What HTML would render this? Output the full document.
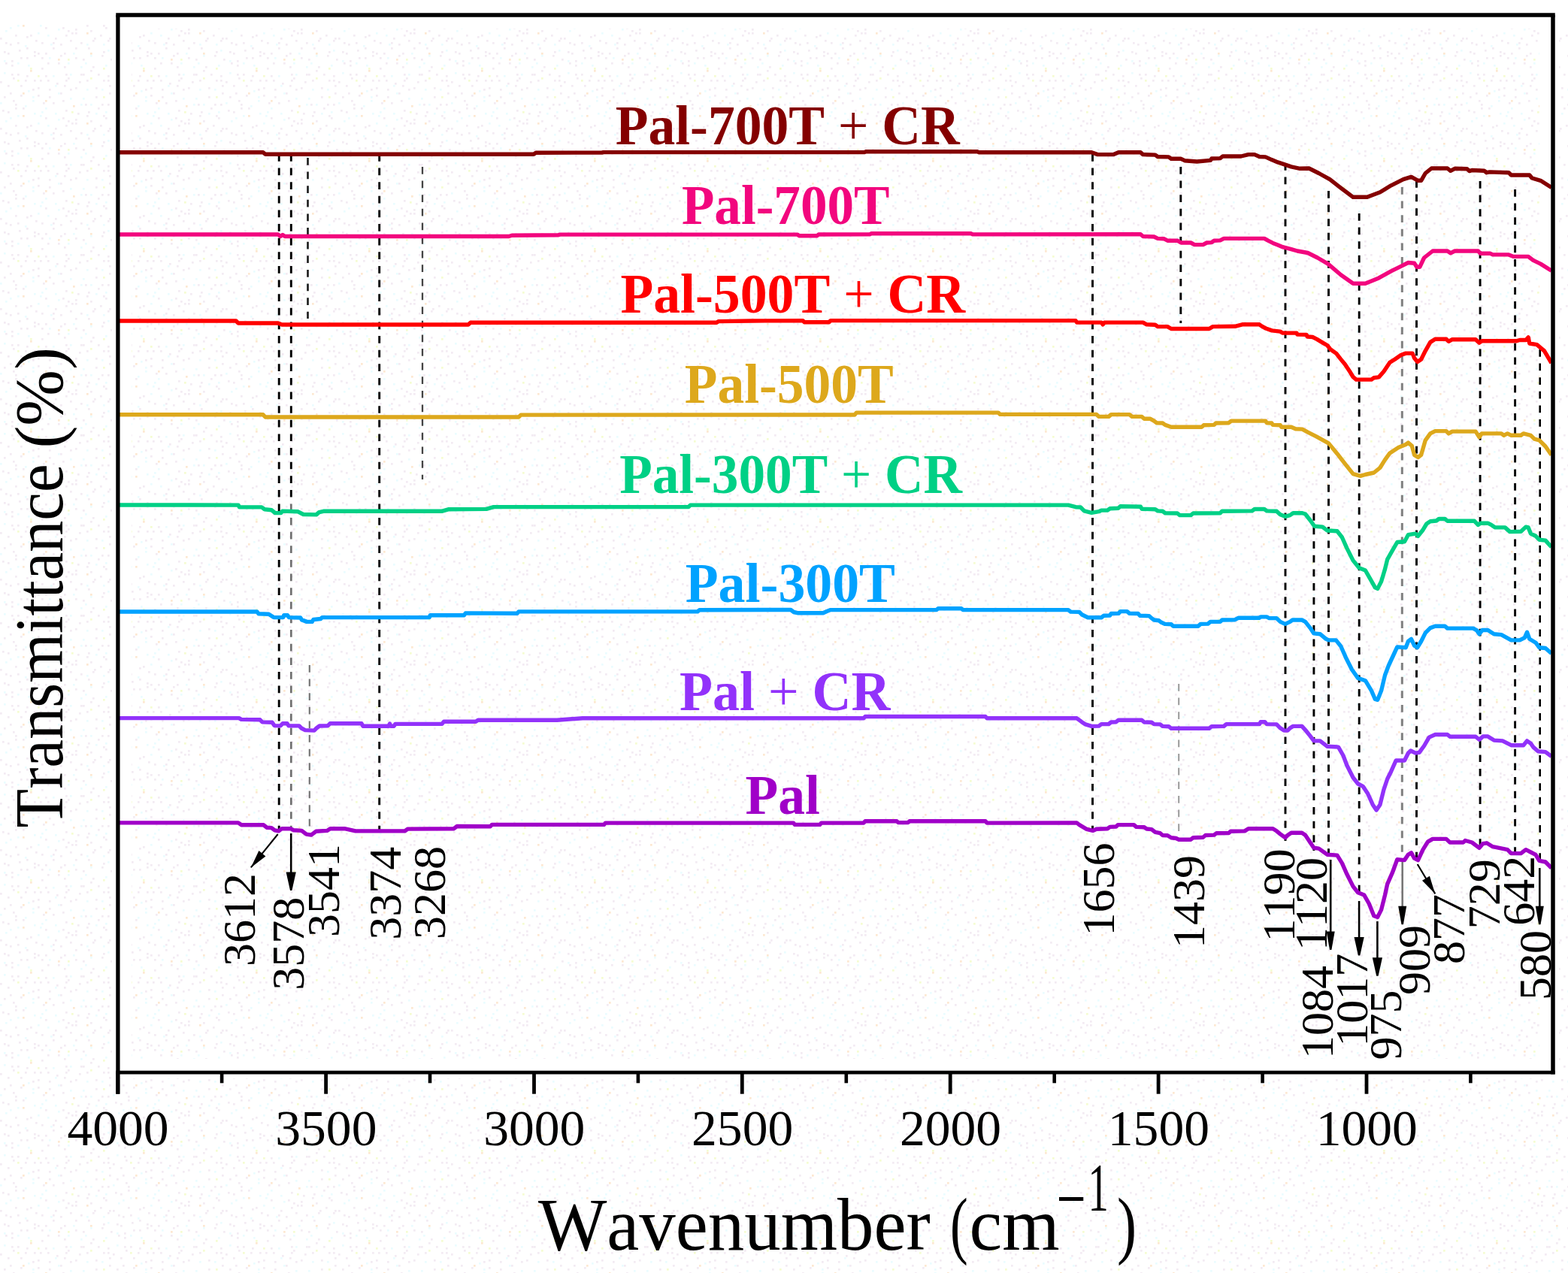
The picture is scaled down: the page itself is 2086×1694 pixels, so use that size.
<!DOCTYPE html>
<html lang="en"><head><meta charset="utf-8">
<title>FTIR spectra of Pal samples</title>
<style>
html,body{margin:0;padding:0;background:#fff;}
body{width:2086px;height:1694px;overflow:hidden;}
svg{display:block;}
text{font-family:"Liberation Serif", "DejaVu Serif", serif;font-kerning:none;font-variant-ligatures:none;}
.lab{font-weight:bold;}
</style></head><body>
<svg width="2086" height="1694" viewBox="0 0 2086 1694" role="img" aria-label="FTIR transmittance spectra">
<rect x="0" y="0" width="2086" height="1694" fill="#ffffff"/>
<defs><pattern id="tex" x="0" y="33" width="150" height="120" patternUnits="userSpaceOnUse">
<rect x="7" y="7" width="2.7" height="2.7" fill="#ebfcff"/>
<rect x="13" y="3" width="2.7" height="2.7" fill="#ebfcff"/>
<rect x="23" y="0" width="2.7" height="2.7" fill="#ebfcff"/>
<rect x="30" y="0" width="2.7" height="2.7" fill="#fde8d2"/>
<rect x="53" y="0" width="2.7" height="2.7" fill="#ebfcff"/>
<rect x="60" y="3" width="2.7" height="2.7" fill="#f3ebf3"/>
<rect x="77" y="5" width="2.7" height="2.7" fill="#ebfcff"/>
<rect x="83" y="3" width="2.7" height="2.7" fill="#f3ebf3"/>
<rect x="90" y="7" width="2.7" height="2.7" fill="#f3ebf3"/>
<rect x="100" y="5" width="2.7" height="2.7" fill="#f3ebf3"/>
<rect x="115" y="0" width="2.7" height="2.7" fill="#f3ebf3"/>
<rect x="120" y="7" width="2.7" height="2.7" fill="#f3ebf3"/>
<rect x="137" y="0" width="2.7" height="2.7" fill="#f3ebf3"/>
<rect x="140" y="3" width="2.7" height="2.7" fill="#f3ebf3"/>
<rect x="0" y="17" width="2.7" height="2.7" fill="#f3ebf3"/>
<rect x="20" y="13" width="2.7" height="2.7" fill="#f3ebf3"/>
<rect x="35" y="15" width="2.7" height="2.7" fill="#f3ebf3"/>
<rect x="40" y="13" width="2.7" height="2.7" fill="#f3ebf3"/>
<rect x="50" y="10" width="2.7" height="2.7" fill="#ebfcff"/>
<rect x="63" y="13" width="2.7" height="2.7" fill="#ebfcff"/>
<rect x="73" y="17" width="2.7" height="2.7" fill="#f3ebf3"/>
<rect x="87" y="13" width="2.7" height="2.7" fill="#f3ebf3"/>
<rect x="95" y="10" width="2.7" height="2.7" fill="#f3ebf3"/>
<rect x="100" y="10" width="2.7" height="2.7" fill="#f3ebf3"/>
<rect x="115" y="10" width="2.7" height="2.7" fill="#fde8d2"/>
<rect x="125" y="17" width="2.7" height="2.7" fill="#f3ebf3"/>
<rect x="133" y="13" width="2.7" height="2.7" fill="#f3ebf3"/>
<rect x="145" y="17" width="2.7" height="2.7" fill="#f3ebf3"/>
<rect x="7" y="23" width="2.7" height="2.7" fill="#f3ebf3"/>
<rect x="13" y="25" width="2.7" height="2.7" fill="#f3ebf3"/>
<rect x="23" y="23" width="2.7" height="2.7" fill="#f3ebf3"/>
<rect x="33" y="27" width="2.7" height="2.7" fill="#ebfcff"/>
<rect x="47" y="20" width="2.7" height="2.7" fill="#f3ebf3"/>
<rect x="55" y="23" width="2.7" height="2.7" fill="#f3ebf3"/>
<rect x="67" y="25" width="2.7" height="2.7" fill="#ebfcff"/>
<rect x="70" y="23" width="2.7" height="2.7" fill="#f3ebf3"/>
<rect x="80" y="25" width="2.7" height="2.7" fill="#f3ebf3"/>
<rect x="93" y="20" width="2.7" height="2.7" fill="#f3ebf3"/>
<rect x="107" y="23" width="2.7" height="2.7" fill="#f3ebf3"/>
<rect x="115" y="25" width="2.7" height="2.7" fill="#ebfcff"/>
<rect x="123" y="20" width="2.7" height="2.7" fill="#f3ebf3"/>
<rect x="137" y="25" width="2.7" height="2.7" fill="#ebfcff"/>
<rect x="143" y="20" width="2.7" height="2.7" fill="#f3ebf3"/>
<rect x="5" y="35" width="2.7" height="2.7" fill="#f3ebf3"/>
<rect x="10" y="37" width="2.7" height="2.7" fill="#f3ebf3"/>
<rect x="25" y="33" width="2.7" height="2.7" fill="#f3ebf3"/>
<rect x="35" y="30" width="2.7" height="2.7" fill="#f3ebf3"/>
<rect x="45" y="35" width="2.7" height="2.7" fill="#f3ebf3"/>
<rect x="50" y="37" width="2.7" height="2.7" fill="#f3ebf3"/>
<rect x="60" y="37" width="2.7" height="2.7" fill="#f3ebf3"/>
<rect x="70" y="30" width="2.7" height="2.7" fill="#f3ebf3"/>
<rect x="85" y="37" width="2.7" height="2.7" fill="#f3ebf3"/>
<rect x="97" y="37" width="2.7" height="2.7" fill="#ebfcff"/>
<rect x="100" y="30" width="2.7" height="2.7" fill="#f3ebf3"/>
<rect x="117" y="30" width="2.7" height="2.7" fill="#f3ebf3"/>
<rect x="120" y="37" width="2.7" height="2.7" fill="#fde8d2"/>
<rect x="137" y="35" width="2.7" height="2.7" fill="#f3ebf3"/>
<rect x="143" y="33" width="2.7" height="2.7" fill="#ebfcff"/>
<rect x="5" y="47" width="2.7" height="2.7" fill="#ebfcff"/>
<rect x="15" y="47" width="2.7" height="2.7" fill="#f3ebf3"/>
<rect x="27" y="43" width="2.7" height="2.7" fill="#f3ebf3"/>
<rect x="35" y="43" width="2.7" height="2.7" fill="#f3ebf3"/>
<rect x="45" y="40" width="2.7" height="2.7" fill="#f3ebf3"/>
<rect x="55" y="43" width="2.7" height="2.7" fill="#f3ebf3"/>
<rect x="65" y="43" width="2.7" height="2.7" fill="#ebfcff"/>
<rect x="77" y="45" width="2.7" height="2.7" fill="#fde8d2"/>
<rect x="80" y="40" width="2.7" height="2.7" fill="#f3ebf3"/>
<rect x="90" y="45" width="2.7" height="2.7" fill="#f5fcd2"/>
<rect x="100" y="43" width="2.7" height="2.7" fill="#f3ebf3"/>
<rect x="110" y="45" width="2.7" height="2.7" fill="#f3ebf3"/>
<rect x="120" y="40" width="2.7" height="2.7" fill="#ebfcff"/>
<rect x="135" y="40" width="2.7" height="2.7" fill="#f3ebf3"/>
<rect x="147" y="45" width="2.7" height="2.7" fill="#f3ebf3"/>
<rect x="7" y="50" width="2.7" height="2.7" fill="#f3ebf3"/>
<rect x="15" y="53" width="2.7" height="2.7" fill="#f3ebf3"/>
<rect x="23" y="50" width="2.7" height="2.7" fill="#ebfcff"/>
<rect x="37" y="53" width="2.7" height="2.7" fill="#ebfcff"/>
<rect x="40" y="57" width="2.7" height="2.7" fill="#f5fcd2"/>
<rect x="55" y="57" width="2.7" height="2.7" fill="#f3ebf3"/>
<rect x="63" y="50" width="2.7" height="2.7" fill="#f3ebf3"/>
<rect x="77" y="50" width="2.7" height="2.7" fill="#f3ebf3"/>
<rect x="85" y="55" width="2.7" height="2.7" fill="#f3ebf3"/>
<rect x="90" y="50" width="2.7" height="2.7" fill="#ebfcff"/>
<rect x="107" y="55" width="2.7" height="2.7" fill="#ebfcff"/>
<rect x="113" y="50" width="2.7" height="2.7" fill="#ebfcff"/>
<rect x="123" y="55" width="2.7" height="2.7" fill="#f3ebf3"/>
<rect x="137" y="57" width="2.7" height="2.7" fill="#f5fcd2"/>
<rect x="140" y="53" width="2.7" height="2.7" fill="#ebfcff"/>
<rect x="5" y="63" width="2.7" height="2.7" fill="#ebfcff"/>
<rect x="15" y="65" width="2.7" height="2.7" fill="#f3ebf3"/>
<rect x="23" y="65" width="2.7" height="2.7" fill="#f3ebf3"/>
<rect x="35" y="67" width="2.7" height="2.7" fill="#f3ebf3"/>
<rect x="40" y="60" width="2.7" height="2.7" fill="#fde8d2"/>
<rect x="50" y="67" width="2.7" height="2.7" fill="#f5fcd2"/>
<rect x="60" y="67" width="2.7" height="2.7" fill="#f3ebf3"/>
<rect x="70" y="67" width="2.7" height="2.7" fill="#ebfcff"/>
<rect x="87" y="65" width="2.7" height="2.7" fill="#f3ebf3"/>
<rect x="93" y="65" width="2.7" height="2.7" fill="#ebfcff"/>
<rect x="107" y="65" width="2.7" height="2.7" fill="#f3ebf3"/>
<rect x="110" y="65" width="2.7" height="2.7" fill="#f3ebf3"/>
<rect x="120" y="60" width="2.7" height="2.7" fill="#f3ebf3"/>
<rect x="130" y="65" width="2.7" height="2.7" fill="#f3ebf3"/>
<rect x="143" y="67" width="2.7" height="2.7" fill="#f3ebf3"/>
<rect x="0" y="75" width="2.7" height="2.7" fill="#f3ebf3"/>
<rect x="17" y="70" width="2.7" height="2.7" fill="#f3ebf3"/>
<rect x="23" y="73" width="2.7" height="2.7" fill="#f5fcd2"/>
<rect x="33" y="73" width="2.7" height="2.7" fill="#f3ebf3"/>
<rect x="45" y="73" width="2.7" height="2.7" fill="#f3ebf3"/>
<rect x="53" y="73" width="2.7" height="2.7" fill="#f3ebf3"/>
<rect x="63" y="73" width="2.7" height="2.7" fill="#f3ebf3"/>
<rect x="75" y="77" width="2.7" height="2.7" fill="#f3ebf3"/>
<rect x="87" y="73" width="2.7" height="2.7" fill="#f3ebf3"/>
<rect x="90" y="70" width="2.7" height="2.7" fill="#f3ebf3"/>
<rect x="105" y="75" width="2.7" height="2.7" fill="#f3ebf3"/>
<rect x="115" y="73" width="2.7" height="2.7" fill="#f3ebf3"/>
<rect x="120" y="70" width="2.7" height="2.7" fill="#f5fcd2"/>
<rect x="137" y="73" width="2.7" height="2.7" fill="#f3ebf3"/>
<rect x="143" y="73" width="2.7" height="2.7" fill="#f3ebf3"/>
<rect x="10" y="80" width="2.7" height="2.7" fill="#f3ebf3"/>
<rect x="27" y="80" width="2.7" height="2.7" fill="#f3ebf3"/>
<rect x="37" y="87" width="2.7" height="2.7" fill="#ebfcff"/>
<rect x="43" y="85" width="2.7" height="2.7" fill="#f3ebf3"/>
<rect x="50" y="83" width="2.7" height="2.7" fill="#f3ebf3"/>
<rect x="65" y="85" width="2.7" height="2.7" fill="#f3ebf3"/>
<rect x="73" y="80" width="2.7" height="2.7" fill="#ebfcff"/>
<rect x="85" y="80" width="2.7" height="2.7" fill="#f3ebf3"/>
<rect x="93" y="85" width="2.7" height="2.7" fill="#f3ebf3"/>
<rect x="100" y="83" width="2.7" height="2.7" fill="#f3ebf3"/>
<rect x="115" y="85" width="2.7" height="2.7" fill="#ebfcff"/>
<rect x="127" y="83" width="2.7" height="2.7" fill="#f3ebf3"/>
<rect x="135" y="85" width="2.7" height="2.7" fill="#ebfcff"/>
<rect x="145" y="80" width="2.7" height="2.7" fill="#f3ebf3"/>
<rect x="5" y="95" width="2.7" height="2.7" fill="#f3ebf3"/>
<rect x="13" y="90" width="2.7" height="2.7" fill="#f3ebf3"/>
<rect x="27" y="93" width="2.7" height="2.7" fill="#f3ebf3"/>
<rect x="30" y="90" width="2.7" height="2.7" fill="#fde8d2"/>
<rect x="43" y="95" width="2.7" height="2.7" fill="#ebfcff"/>
<rect x="50" y="93" width="2.7" height="2.7" fill="#f3ebf3"/>
<rect x="65" y="95" width="2.7" height="2.7" fill="#f3ebf3"/>
<rect x="77" y="90" width="2.7" height="2.7" fill="#ebfcff"/>
<rect x="80" y="90" width="2.7" height="2.7" fill="#f3ebf3"/>
<rect x="93" y="97" width="2.7" height="2.7" fill="#ebfcff"/>
<rect x="110" y="97" width="2.7" height="2.7" fill="#ebfcff"/>
<rect x="127" y="95" width="2.7" height="2.7" fill="#f3ebf3"/>
<rect x="137" y="95" width="2.7" height="2.7" fill="#f5fcd2"/>
<rect x="145" y="90" width="2.7" height="2.7" fill="#f3ebf3"/>
<rect x="0" y="103" width="2.7" height="2.7" fill="#ebfcff"/>
<rect x="17" y="100" width="2.7" height="2.7" fill="#f3ebf3"/>
<rect x="20" y="105" width="2.7" height="2.7" fill="#f3ebf3"/>
<rect x="33" y="107" width="2.7" height="2.7" fill="#ebfcff"/>
<rect x="43" y="100" width="2.7" height="2.7" fill="#ebfcff"/>
<rect x="57" y="103" width="2.7" height="2.7" fill="#f3ebf3"/>
<rect x="60" y="100" width="2.7" height="2.7" fill="#fde8d2"/>
<rect x="70" y="103" width="2.7" height="2.7" fill="#f3ebf3"/>
<rect x="83" y="100" width="2.7" height="2.7" fill="#f3ebf3"/>
<rect x="97" y="107" width="2.7" height="2.7" fill="#fde8d2"/>
<rect x="107" y="105" width="2.7" height="2.7" fill="#ebfcff"/>
<rect x="113" y="105" width="2.7" height="2.7" fill="#f3ebf3"/>
<rect x="120" y="105" width="2.7" height="2.7" fill="#ebfcff"/>
<rect x="135" y="105" width="2.7" height="2.7" fill="#f3ebf3"/>
<rect x="143" y="105" width="2.7" height="2.7" fill="#f3ebf3"/>
<rect x="3" y="113" width="2.7" height="2.7" fill="#f3ebf3"/>
<rect x="10" y="115" width="2.7" height="2.7" fill="#f3ebf3"/>
<rect x="20" y="110" width="2.7" height="2.7" fill="#f3ebf3"/>
<rect x="30" y="110" width="2.7" height="2.7" fill="#f3ebf3"/>
<rect x="45" y="117" width="2.7" height="2.7" fill="#ebfcff"/>
<rect x="55" y="115" width="2.7" height="2.7" fill="#ebfcff"/>
<rect x="60" y="110" width="2.7" height="2.7" fill="#ebfcff"/>
<rect x="73" y="117" width="2.7" height="2.7" fill="#ebfcff"/>
<rect x="87" y="113" width="2.7" height="2.7" fill="#f3ebf3"/>
<rect x="95" y="115" width="2.7" height="2.7" fill="#f5fcd2"/>
<rect x="103" y="117" width="2.7" height="2.7" fill="#f3ebf3"/>
<rect x="117" y="115" width="2.7" height="2.7" fill="#f3ebf3"/>
<rect x="127" y="117" width="2.7" height="2.7" fill="#ebfcff"/>
<rect x="130" y="110" width="2.7" height="2.7" fill="#f3ebf3"/>
<rect x="140" y="115" width="2.7" height="2.7" fill="#ebfcff"/>
</pattern></defs>
<rect x="0" y="33" width="2086" height="1661" fill="url(#tex)"/>
<rect x="161.9" y="25" width="1899.1" height="1397" fill="none" stroke="#fff" stroke-width="26"/>
<g fill="none" stroke-dasharray="9.7 8.92">
<line x1="371.2" y1="205.0" x2="371.2" y2="1107.0" stroke="#000" stroke-width="2.9"/>
<line x1="387.3" y1="205.0" x2="387.3" y2="666.0" stroke="#000" stroke-width="2.9"/>
<line x1="387.3" y1="670.5" x2="387.3" y2="1105.0" stroke="#707070" stroke-width="2.7"/>
<line x1="409.5" y1="210.0" x2="409.5" y2="424.0" stroke="#1a1a1a" stroke-width="2.6"/>
<line x1="411.8" y1="885.0" x2="411.8" y2="1111.0" stroke="#777" stroke-width="2.2"/>
<line x1="504.7" y1="205.0" x2="504.7" y2="1107.0" stroke="#000" stroke-width="2.9"/>
<line x1="562.0" y1="222.0" x2="562.0" y2="638.0" stroke="#444" stroke-width="2.3"/>
<line x1="1453.5" y1="205.0" x2="1453.5" y2="1106.0" stroke="#000" stroke-width="2.9"/>
<line x1="1570.8" y1="222.0" x2="1570.8" y2="430.0" stroke="#000" stroke-width="2.9"/>
<line x1="1568.2" y1="910.0" x2="1568.2" y2="1120.0" stroke="#999" stroke-width="2.0"/>
<line x1="1710.0" y1="217.0" x2="1710.0" y2="1119.0" stroke="#000" stroke-width="2.9"/>
<line x1="1747.9" y1="683.0" x2="1747.9" y2="1132.0" stroke="#000" stroke-width="2.9"/>
<line x1="1767.5" y1="254.0" x2="1767.5" y2="1138.0" stroke="#000" stroke-width="2.9"/>
<line x1="1808.2" y1="284.0" x2="1808.2" y2="1188.0" stroke="#000" stroke-width="2.9"/>
<line x1="1865.3" y1="249.0" x2="1865.3" y2="1145.0" stroke="#808080" stroke-width="3.0"/>
<line x1="1884.5" y1="240.0" x2="1884.5" y2="1144.0" stroke="#000" stroke-width="2.9"/>
<line x1="1969.1" y1="241.0" x2="1969.1" y2="1128.0" stroke="#000" stroke-width="2.9"/>
<line x1="2015.6" y1="252.0" x2="2015.6" y2="1136.0" stroke="#000" stroke-width="2.9"/>
<line x1="2048.7" y1="465.0" x2="2048.7" y2="1145.0" stroke="#000" stroke-width="2.6"/>
</g>
<g fill="none" stroke-width="5.4" stroke-linejoin="round" stroke-linecap="butt">
<polyline stroke="#A000C8" points="157.0,1094.9 317.0,1094.9 321.2,1097.8 350.7,1097.8 354.9,1101.2 361.2,1101.6 365.5,1104.8 370.7,1105.9 375.0,1102.7 386.6,1102.7 390.8,1104.8 401.3,1105.4 407.6,1110.1 414.0,1111.1 420.3,1106.3 435.1,1105.4 439.3,1102.7 458.3,1102.7 473.0,1105.9 538.4,1105.9 542.6,1103.1 603.8,1102.7 608.0,1099.5 652.3,1099.8 654.5,1097.4 803.5,1097.4 805.5,1095.1 1055.5,1095.1 1057.5,1097.4 1090.7,1097.4 1092.7,1095.1 1149.0,1095.1 1151.0,1092.7 1193.0,1092.7 1195.0,1094.6 1208.0,1094.6 1210.0,1092.7 1311.0,1092.7 1313.0,1095.1 1432.6,1095.0 1435.9,1097.6 1445.6,1103.3 1453.8,1105.4 1458.7,1103.3 1473.3,1102.8 1476.6,1100.4 1484.8,1100.0 1487.2,1097.6 1508.4,1097.6 1511.7,1100.4 1522.2,1100.7 1525.5,1103.0 1532.0,1103.6 1536.9,1107.4 1543.4,1108.7 1546.7,1111.5 1553.2,1111.8 1558.1,1114.7 1564.6,1115.5 1567.9,1117.2 1584.2,1117.2 1587.4,1114.7 1600.5,1114.2 1603.7,1111.5 1615.2,1111.1 1618.4,1108.7 1634.7,1108.5 1637.2,1106.2 1655.9,1105.9 1660.8,1102.8 1693.4,1102.8 1698.3,1105.8 1703.2,1109.8 1709.7,1114.7 1713.0,1111.5 1717.8,1108.2 1732.0,1108.2 1736.5,1111.2 1743.0,1121.0 1747.9,1128.3 1754.4,1129.1 1765.9,1137.3 1778.9,1138.1 1785.4,1148.7 1791.9,1163.3 1800.1,1179.6 1806.6,1187.8 1814.8,1191.1 1821.3,1202.5 1827.8,1218.8 1832.7,1220.4 1837.6,1210.6 1842.5,1191.1 1845.7,1176.4 1852.2,1161.7 1858.8,1143.8 1868.5,1144.6 1873.4,1137.3 1877.5,1134.8 1881.6,1142.2 1886.5,1144.6 1893.0,1130.7 1899.5,1120.2 1906.0,1116.4 1924.0,1116.4 1928.9,1121.0 1946.8,1121.0 1949.2,1118.5 1958.2,1121.0 1968.0,1128.3 1972.9,1122.6 1977.8,1121.8 1985.9,1126.7 2005.5,1130.7 2010.4,1135.6 2023.4,1135.6 2029.9,1130.7 2036.4,1134.0 2043.0,1137.3 2047.8,1145.4 2056.0,1147.0 2064.0,1155.0"/>
<polyline stroke="#9232FA" points="157.0,955.6 318.0,955.6 321.0,957.4 346.0,957.8 349.0,960.9 362.0,961.2 365.0,965.6 373.0,965.9 376.0,962.8 382.0,962.8 384.0,965.9 398.0,965.9 401.0,969.0 406.0,971.6 418.0,972.1 421.0,969.0 425.0,966.0 436.0,965.9 439.0,962.8 481.0,962.8 483.0,966.3 517.0,966.3 518.5,963.0 520.0,966.3 524.0,966.3 526.0,963.4 588.0,963.4 590.5,960.3 633.0,960.3 636.0,958.3 741.0,958.3 775.0,955.7 1149.0,955.7 1151.0,953.5 1311.0,953.5 1313.0,955.7 1432.6,955.8 1439.1,960.7 1444.0,963.9 1452.2,966.4 1461.9,966.1 1465.2,963.6 1475.0,963.5 1478.2,961.0 1484.8,960.7 1488.0,958.2 1519.0,958.2 1522.2,961.0 1532.0,961.2 1535.3,963.6 1543.4,963.9 1546.7,966.4 1554.8,966.7 1558.1,969.3 1608.6,969.3 1611.9,966.7 1628.2,966.4 1631.5,963.6 1675.5,963.6 1677.1,960.7 1682.8,960.7 1685.2,963.6 1698.3,963.9 1703.2,968.8 1708.1,972.1 1713.0,972.1 1716.2,968.8 1720.3,966.4 1732.0,966.4 1736.5,971.3 1743.0,979.4 1747.9,985.9 1756.1,985.9 1765.9,993.3 1780.5,994.1 1787.0,1005.5 1791.9,1018.5 1800.1,1034.8 1806.6,1043.0 1813.1,1046.3 1819.6,1056.0 1826.2,1070.7 1831.1,1078.0 1836.0,1070.7 1840.8,1051.1 1845.7,1036.5 1850.6,1026.7 1857.1,1012.0 1868.5,1012.0 1873.4,1002.2 1876.7,999.0 1883.2,1002.2 1888.1,1001.4 1894.6,992.5 1901.2,981.1 1909.3,977.5 1925.6,977.5 1928.9,980.2 1963.1,980.2 1968.0,984.3 1972.9,979.9 1979.4,979.9 1987.5,985.1 1998.9,985.9 2010.4,991.7 2026.7,991.7 2031.5,985.9 2036.4,989.2 2039.7,994.1 2046.2,999.8 2056.0,1000.6 2064.0,1006.5"/>
<polyline stroke="#00A2FF" points="157.0,814.0 342.0,814.0 344.1,816.8 357.5,817.2 364.2,821.6 376.7,821.6 377.7,818.7 382.5,818.7 384.4,821.6 399.7,822.0 401.6,824.9 408.3,827.4 415.1,827.4 417.0,824.5 426.6,823.5 428.5,821.6 571.3,821.6 572.3,818.7 617.4,818.7 619.3,815.9 688.0,816.3 690.0,813.9 928.0,813.9 930.5,811.7 1052.0,811.5 1056.0,814.5 1062.0,815.8 1095.0,815.8 1100.0,813.5 1105.0,811.6 1246.0,811.6 1248.0,809.8 1279.0,809.8 1281.0,811.6 1421.2,811.6 1424.4,814.1 1435.9,814.4 1439.1,817.7 1447.3,821.7 1465.2,821.7 1468.5,819.3 1476.6,819.0 1478.2,816.5 1488.0,816.4 1490.5,813.6 1499.4,813.6 1502.7,816.4 1514.1,816.5 1516.5,819.3 1528.8,819.6 1532.0,822.6 1535.3,825.0 1541.8,825.8 1545.1,828.3 1550.0,830.4 1558.1,830.7 1560.6,833.2 1594.0,833.2 1597.2,830.4 1607.0,830.1 1610.3,827.4 1623.3,827.4 1625.8,825.0 1642.9,824.7 1647.8,822.2 1675.5,822.2 1677.1,820.9 1685.2,820.9 1688.5,822.6 1698.3,822.6 1703.2,827.4 1709.7,830.4 1716.2,827.4 1719.5,825.0 1732.0,825.0 1736.5,827.4 1743.0,835.6 1747.9,842.9 1756.1,843.7 1764.2,850.3 1767.5,851.9 1777.3,851.9 1783.8,860.0 1790.3,874.7 1798.5,891.0 1806.6,902.4 1816.4,905.7 1824.5,919.1 1829.4,930.5 1832.7,931.3 1837.6,919.1 1842.5,898.5 1847.4,885.5 1853.9,871.5 1858.8,860.9 1870.2,861.7 1873.4,853.5 1877.5,850.3 1881.6,859.2 1885.7,861.7 1890.6,853.5 1896.3,842.1 1902.8,835.6 1909.3,833.2 1922.3,833.2 1925.6,836.1 1959.8,836.1 1964.7,838.9 1968.0,843.7 1972.0,838.5 1979.4,838.5 1987.5,843.7 1997.3,844.6 2010.4,851.9 2021.8,851.9 2028.3,848.6 2031.5,841.3 2034.8,850.3 2043.0,855.2 2047.8,861.7 2056.0,862.5 2064.0,869.5"/>
<polyline stroke="#00D085" points="157.0,672.0 317.0,672.1 318.5,674.9 348.0,674.9 352.0,677.8 361.4,678.8 366.0,682.6 373.8,682.6 375.7,680.1 396.0,680.7 403.5,684.5 420.8,684.9 424.6,681.6 430.4,680.3 587.6,680.3 596.3,677.8 647.1,677.4 656.7,674.6 916.0,674.6 918.5,672.1 1421.2,672.1 1431.0,674.7 1437.5,675.0 1442.4,679.9 1452.2,682.4 1461.9,680.7 1465.2,679.1 1473.3,679.1 1476.6,676.7 1488.0,676.2 1490.5,673.7 1517.4,674.2 1519.0,677.2 1536.9,677.8 1540.2,679.9 1546.7,680.3 1550.0,682.7 1566.3,683.0 1569.5,685.6 1584.2,685.6 1587.4,683.0 1623.3,682.7 1625.8,680.3 1665.7,679.9 1669.0,677.5 1682.0,677.5 1685.2,679.9 1698.3,680.3 1703.2,684.8 1709.7,687.3 1716.2,685.6 1720.3,682.7 1732.5,682.7 1736.5,684.0 1743.0,692.2 1748.7,700.3 1759.3,701.1 1765.9,706.0 1778.9,706.8 1785.4,715.0 1791.9,729.6 1800.1,745.9 1808.2,755.7 1816.4,759.0 1822.9,770.4 1829.4,781.8 1832.7,783.4 1837.6,773.7 1842.5,757.4 1845.7,744.3 1852.2,732.9 1858.8,721.5 1868.5,720.7 1873.4,711.7 1883.2,710.1 1886.5,713.3 1893.0,705.2 1897.9,697.0 1902.8,693.8 1910.9,693.0 1914.2,690.5 1922.3,690.5 1925.6,693.3 1961.5,693.3 1966.3,698.4 1969.6,696.2 1979.4,696.2 1984.3,698.7 1989.2,701.9 2002.2,701.9 2008.7,707.6 2023.4,707.2 2029.9,701.1 2033.2,701.9 2036.4,710.1 2043.0,713.3 2047.8,718.2 2056.0,719.1 2064.0,728.0"/>
<polyline stroke="#DDA81C" points="157.0,551.8 350.0,551.8 353.0,555.0 690.0,555.0 693.0,552.1 1137.0,552.0 1139.5,549.1 1328.0,549.1 1330.5,551.4 1458.7,551.4 1462.0,554.4 1475.0,554.4 1478.2,551.6 1502.7,551.6 1506.0,554.4 1519.0,554.4 1522.2,557.3 1530.4,557.3 1535.3,560.1 1538.6,562.7 1546.7,563.0 1550.0,565.4 1558.1,568.2 1598.9,568.2 1601.3,565.8 1615.2,565.4 1617.6,563.0 1634.7,562.7 1638.0,560.1 1683.6,560.1 1685.2,562.7 1691.8,563.0 1693.4,565.4 1703.2,565.8 1704.8,568.2 1717.8,568.2 1723.6,570.8 1732.5,571.1 1739.8,575.2 1751.2,580.9 1767.5,589.9 1778.9,603.7 1790.3,618.4 1800.1,630.6 1809.9,633.4 1816.4,631.5 1827.8,629.0 1835.9,622.5 1842.5,611.9 1849.0,602.9 1860.4,595.6 1870.2,591.5 1873.4,589.1 1878.3,593.2 1881.6,605.4 1886.5,608.6 1890.6,605.4 1896.3,585.8 1902.8,576.9 1909.3,573.6 1924.0,573.6 1927.2,576.9 1932.1,574.1 1963.1,574.1 1968.0,581.7 1971.2,576.9 1997.3,576.9 2000.6,579.3 2005.5,576.9 2010.4,579.3 2023.4,579.3 2026.7,576.9 2036.4,579.3 2041.3,584.2 2047.8,585.8 2056.0,594.0 2064.0,605.5"/>
<polyline stroke="#FF0000" points="157.0,427.0 314.0,427.0 317.0,430.0 370.0,430.0 375.0,432.0 623.0,432.0 626.0,429.3 953.0,429.3 956.0,427.6 1000.0,427.0 1068.0,426.6 1070.0,428.7 1103.0,428.7 1105.0,426.6 1431.0,426.6 1432.6,429.1 1465.2,429.1 1467.2,431.8 1469.3,429.1 1520.6,429.1 1525.5,431.8 1536.9,432.2 1540.2,434.6 1553.2,434.6 1558.1,437.5 1608.6,437.5 1613.5,434.6 1642.9,434.3 1652.6,431.8 1675.5,431.8 1678.7,434.2 1684.0,437.0 1692.1,439.9 1703.0,441.1 1706.5,443.1 1724.9,443.1 1726.0,445.1 1738.1,445.4 1739.3,448.0 1746.2,448.5 1751.9,451.4 1760.6,456.6 1765.7,459.5 1769.8,464.7 1777.8,470.4 1783.6,477.9 1789.3,484.8 1795.1,493.4 1800.0,501.5 1804.2,505.1 1824.5,505.1 1827.8,502.7 1834.3,501.9 1840.8,494.5 1849.0,482.3 1855.5,478.2 1863.7,472.5 1870.2,470.1 1879.1,470.1 1881.6,476.6 1885.7,481.5 1890.6,478.2 1896.3,466.8 1902.8,455.4 1909.3,451.3 1924.0,451.3 1927.2,454.3 1932.1,451.7 1963.1,451.7 1968.0,456.2 1971.2,453.8 2016.9,453.8 2021.8,452.5 2029.9,452.5 2033.2,448.9 2034.8,457.0 2044.6,458.7 2054.4,466.8 2064.0,483.0"/>
<polyline stroke="#F2067E" points="157.0,312.0 370.0,312.0 373.0,314.5 376.0,312.5 379.0,314.5 677.0,314.5 681.0,313.2 743.0,312.7 745.0,312.1 1061.0,312.1 1063.0,313.7 1087.0,313.7 1089.0,312.0 1157.0,311.9 1159.0,310.8 1292.0,310.8 1294.0,311.9 1517.4,311.8 1520.6,314.5 1535.3,315.0 1540.2,317.4 1548.3,317.7 1553.2,320.2 1566.3,320.2 1571.2,323.0 1584.2,323.0 1589.1,325.6 1600.5,325.6 1605.4,323.0 1611.9,322.6 1615.2,320.2 1623.3,319.9 1628.2,317.4 1682.0,317.4 1686.9,320.2 1693.4,323.4 1699.9,325.9 1706.4,328.7 1717.8,331.6 1726.0,334.0 1739.8,336.5 1752.8,343.0 1766.7,351.1 1783.8,365.8 1800.1,377.2 1816.4,377.2 1834.3,369.9 1850.6,360.9 1865.3,353.6 1873.4,349.5 1881.6,350.3 1884.8,355.2 1888.9,355.2 1894.6,343.0 1906.0,334.0 1925.6,334.0 1929.7,336.8 1935.4,334.0 1966.4,334.0 1969.6,337.3 1982.7,337.3 1985.9,338.9 2007.1,338.9 2013.6,341.4 2033.2,341.4 2039.7,346.3 2049.5,351.1 2064.0,360.3"/>
<polyline stroke="#840000" points="157.0,202.7 350.0,202.7 353.0,205.3 710.0,205.3 713.0,203.2 801.0,203.0 803.0,202.6 1150.0,202.6 1152.0,201.7 1300.0,201.7 1302.0,202.7 1452.2,202.7 1460.3,205.6 1481.5,205.6 1488.0,202.8 1517.4,202.8 1520.6,205.6 1536.9,206.1 1540.2,208.5 1554.8,208.9 1558.1,211.3 1571.2,211.3 1576.0,213.7 1592.3,215.0 1610.3,213.4 1611.9,211.0 1623.3,210.6 1626.6,208.0 1651.0,208.0 1660.8,205.6 1669.0,205.6 1675.5,208.5 1683.6,208.9 1691.8,212.6 1699.9,215.9 1709.7,219.1 1717.8,221.9 1729.3,224.3 1741.4,224.0 1754.4,230.5 1769.1,238.7 1783.8,250.1 1800.1,262.3 1818.8,262.3 1836.0,255.8 1850.6,246.8 1866.9,238.7 1877.5,235.4 1886.5,240.3 1890.6,240.3 1896.3,230.5 1904.4,224.0 1925.6,224.0 1929.7,227.3 1935.4,224.3 1951.7,224.8 1955.0,227.6 1958.2,226.5 1974.5,227.3 1977.8,229.7 1981.8,228.9 2007.1,229.7 2010.4,233.0 2034.8,233.0 2038.1,237.0 2049.5,240.3 2064.0,249.5"/>
</g>
<line x1="387.2" y1="1109.0" x2="387.2" y2="1181.0" stroke="#000" stroke-width="2.6"/>
<path d="M380.6 1160.5 L393.8 1160.5 L388.4 1185.0 L386.0 1185.0 Z" fill="#000"/>
<line x1="369.7" y1="1110.0" x2="333.8" y2="1154.4" stroke="#000" stroke-width="2.1"/>
<path d="M344.4 1132.1 L353.4 1139.4 L333.8 1154.4 Z" fill="#000"/>
<line x1="1770.2" y1="1144.0" x2="1770.2" y2="1260.0" stroke="#000" stroke-width="2.6"/>
<path d="M1764.7 1239.5 L1775.7 1239.5 L1771.4 1264.0 L1769.0 1264.0 Z" fill="#000"/>
<line x1="1808.1" y1="1199.0" x2="1808.1" y2="1267.4" stroke="#000" stroke-width="2.6"/>
<path d="M1801.5 1246.9 L1814.7 1246.9 L1809.3 1271.4 L1806.9 1271.4 Z" fill="#000"/>
<line x1="1832.4" y1="1226.0" x2="1832.4" y2="1294.8" stroke="#000" stroke-width="2.6"/>
<path d="M1825.8 1274.3 L1839.0 1274.3 L1833.6 1298.8 L1831.2 1298.8 Z" fill="#000"/>
<line x1="1865.7" y1="1147.0" x2="1865.7" y2="1226.3" stroke="#777" stroke-width="2.6"/>
<path d="M1860.2 1205.8 L1871.2 1205.8 L1866.9 1230.3 L1864.5 1230.3 Z" fill="#000"/>
<line x1="1885.7" y1="1150.0" x2="1909.3" y2="1189.4" stroke="#000" stroke-width="2.1"/>
<path d="M1892.0 1171.8 L1901.9 1165.8 L1909.3 1189.4 Z" fill="#000"/>
<line x1="2048.3" y1="1155.0" x2="2048.3" y2="1226.3" stroke="#000" stroke-width="2.6"/>
<path d="M2042.8 1205.8 L2053.8 1205.8 L2049.5 1230.3 L2047.1 1230.3 Z" fill="#000"/>
<text transform="translate(339.30 1286.00) rotate(-90)" font-size="62" fill="#000">3612</text>
<text transform="translate(404.40 1317.70) rotate(-90)" font-size="62" fill="#000">3578</text>
<text transform="translate(450.50 1246.90) rotate(-90)" font-size="62" fill="#000">3541</text>
<text transform="translate(532.50 1250.70) rotate(-90)" font-size="62" fill="#000">3374</text>
<text transform="translate(592.40 1250.10) rotate(-90)" font-size="62" fill="#000">3268</text>
<text transform="translate(1481.50 1245.50) rotate(-90)" font-size="62" fill="#000">1656</text>
<text transform="translate(1601.90 1262.00) rotate(-90)" font-size="62" fill="#000">1439</text>
<text transform="translate(1721.60 1253.40) rotate(-90)" font-size="62" fill="#000">1190</text>
<text transform="translate(1765.10 1264.90) rotate(-90)" font-size="62" fill="#000">1120</text>
<text transform="translate(1773.00 1409.00) rotate(-90)" font-size="62" fill="#000">1084</text>
<text transform="translate(1819.20 1392.80) rotate(-90)" font-size="62" fill="#000">1017</text>
<text transform="translate(1863.60 1410.60) rotate(-90)" font-size="62" fill="#000">975</text>
<text transform="translate(1901.90 1324.10) rotate(-90)" font-size="62" fill="#000">909</text>
<text transform="translate(1948.40 1283.10) rotate(-90)" font-size="62" fill="#000">877</text>
<text transform="translate(1994.70 1236.30) rotate(-90)" font-size="62" fill="#000">729</text>
<text transform="translate(2041.10 1231.70) rotate(-90)" font-size="62" fill="#000">642</text>
<text transform="translate(2062.90 1330.90) rotate(-90)" font-size="62" fill="#000">580</text>
<text class="lab" x="818.68" y="191.70" font-size="74.20" textLength="458.09" lengthAdjust="spacingAndGlyphs" fill="#840000">Pal-700T <tspan font-weight="normal">+</tspan> CR</text>
<text class="lab" x="906.88" y="297.70" font-size="74.20" textLength="276.69" lengthAdjust="spacingAndGlyphs" fill="#F2067E">Pal-700T</text>
<text class="lab" x="825.38" y="415.50" font-size="74.20" textLength="458.79" lengthAdjust="spacingAndGlyphs" fill="#FF0000">Pal-500T <tspan font-weight="normal">+</tspan> CR</text>
<text class="lab" x="910.78" y="535.80" font-size="74.20" textLength="278.00" lengthAdjust="spacingAndGlyphs" fill="#DDA81C">Pal-500T</text>
<text class="lab" x="824.18" y="656.00" font-size="74.20" textLength="455.79" lengthAdjust="spacingAndGlyphs" fill="#00D085">Pal-300T <tspan font-weight="normal">+</tspan> CR</text>
<text class="lab" x="911.77" y="800.60" font-size="74.20" textLength="279.21" lengthAdjust="spacingAndGlyphs" fill="#00A2FF">Pal-300T</text>
<text class="lab" x="903.97" y="944.50" font-size="74.20" textLength="280.60" lengthAdjust="spacingAndGlyphs" fill="#9232FA">Pal <tspan font-weight="normal">+</tspan> CR</text>
<text class="lab" x="991.58" y="1083.10" font-size="74.20" textLength="99.45" lengthAdjust="spacingAndGlyphs" fill="#A000C8">Pal</text>
<g stroke="#000" fill="none" stroke-linecap="butt">
<line x1="154.25" y1="20.00" x2="2068.75" y2="20.00" stroke-width="5.4"/>
<line x1="154.25" y1="1427.10" x2="2068.75" y2="1427.10" stroke-width="4.7"/>
<line x1="156.90" y1="20.00" x2="156.90" y2="1455.70" stroke-width="5.3"/>
<line x1="2066.00" y1="20.00" x2="2066.00" y2="1429.40" stroke-width="5.5"/>
<line x1="156.7" y1="1427.0" x2="156.7" y2="1455.7" stroke-width="4.8"/>
<line x1="433.6" y1="1427.0" x2="433.6" y2="1455.7" stroke-width="4.8"/>
<line x1="710.5" y1="1427.0" x2="710.5" y2="1455.7" stroke-width="4.8"/>
<line x1="987.3" y1="1427.0" x2="987.3" y2="1455.7" stroke-width="4.8"/>
<line x1="1264.2" y1="1427.0" x2="1264.2" y2="1455.7" stroke-width="4.8"/>
<line x1="1541.1" y1="1427.0" x2="1541.1" y2="1455.7" stroke-width="4.8"/>
<line x1="1818.0" y1="1427.0" x2="1818.0" y2="1455.7" stroke-width="4.8"/>
<line x1="295.1" y1="1427.0" x2="295.1" y2="1441.3" stroke-width="4.6"/>
<line x1="572.0" y1="1427.0" x2="572.0" y2="1441.3" stroke-width="4.6"/>
<line x1="848.9" y1="1427.0" x2="848.9" y2="1441.3" stroke-width="4.6"/>
<line x1="1125.8" y1="1427.0" x2="1125.8" y2="1441.3" stroke-width="4.6"/>
<line x1="1402.7" y1="1427.0" x2="1402.7" y2="1441.3" stroke-width="4.6"/>
<line x1="1679.6" y1="1427.0" x2="1679.6" y2="1441.3" stroke-width="4.6"/>
<line x1="1956.4" y1="1427.0" x2="1956.4" y2="1441.3" stroke-width="4.6"/>
</g>
<text x="89.41" y="1524.3" font-size="68" textLength="135.18" lengthAdjust="spacingAndGlyphs" fill="#000">4000</text>
<text x="366.29" y="1524.3" font-size="68" textLength="135.18" lengthAdjust="spacingAndGlyphs" fill="#000">3500</text>
<text x="643.17" y="1524.3" font-size="68" textLength="135.18" lengthAdjust="spacingAndGlyphs" fill="#000">3000</text>
<text x="920.06" y="1524.3" font-size="68" textLength="135.18" lengthAdjust="spacingAndGlyphs" fill="#000">2500</text>
<text x="1196.94" y="1524.3" font-size="68" textLength="135.18" lengthAdjust="spacingAndGlyphs" fill="#000">2000</text>
<text x="1473.82" y="1524.3" font-size="68" textLength="135.18" lengthAdjust="spacingAndGlyphs" fill="#000">1500</text>
<text x="1750.71" y="1524.3" font-size="68" textLength="135.18" lengthAdjust="spacingAndGlyphs" fill="#000">1000</text>
<text fill="#000"><tspan x="715.91" y="1663.00" font-size="100.00" textLength="521.85" lengthAdjust="spacingAndGlyphs">Wavenumber</tspan> <tspan x="1263.97" y="1663.00" font-size="100.00" textLength="23.73" lengthAdjust="spacingAndGlyphs">(</tspan><tspan x="1289.56" y="1663.00" font-size="100.00" textLength="119.97" lengthAdjust="spacingAndGlyphs">cm</tspan><tspan x="1405.54" y="1628.80" font-size="100.00" textLength="39.15" lengthAdjust="spacingAndGlyphs">−</tspan><tspan x="1447.51" y="1610.50" font-size="90.00" textLength="27.27" lengthAdjust="spacingAndGlyphs">1</tspan><tspan x="1486.08" y="1663.00" font-size="100.00" textLength="26.06" lengthAdjust="spacingAndGlyphs">)</tspan></text>
<text transform="translate(83.2 1100) rotate(-90)" fill="#000"><tspan x="-1.53" y="0" font-size="90.00" textLength="483.96" lengthAdjust="spacingAndGlyphs">Transmittance</tspan> <tspan x="503.56" y="0" font-size="90.00" textLength="134.27" lengthAdjust="spacingAndGlyphs">(%)</tspan></text>
</svg>
</body></html>
